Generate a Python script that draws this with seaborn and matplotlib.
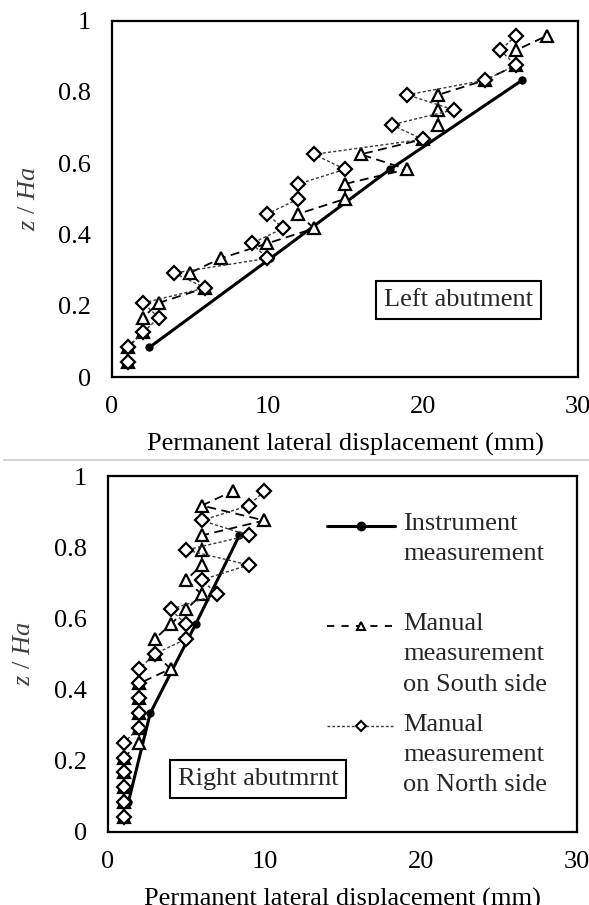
import matplotlib
matplotlib.use("Agg")
import matplotlib.pyplot as plt
import seaborn as sns
import pandas as pd
from matplotlib.lines import Line2D
from matplotlib.ticker import MultipleLocator, FuncFormatter
from matplotlib.legend_handler import HandlerLine2D

# ---------------- data ----------------
LEVELS = [0.042, 0.083, 0.125, 0.167, 0.208, 0.250, 0.292, 0.333, 0.375,
          0.417, 0.458, 0.500, 0.542, 0.583, 0.625, 0.667, 0.708, 0.750,
          0.792, 0.833, 0.875, 0.917, 0.958]
INST_LEVELS = [0.083, 0.333, 0.583, 0.833]

# Left abutment
left_instrument = [2.4, 10.2, 17.9, 26.4]
left_south = [1, 1, 2, 2, 3, 6, 5, 7, 10, 13, 12, 15, 15, 19, 16, 20, 21, 21,
              21, 24, 26, 26, 28]
left_north = [1, 1, 2, 3, 2, 6, 4, 10, 9, 11, 10, 12, 12, 15, 13, 20, 18, 22,
              19, 24, 26, 25, 26]

# Right abutment
right_instrument = [1.3, 2.7, 5.6, 8.4]
right_south = [1, 1, 1, 1, 1, 2, 2, 2, 2, 2, 4, 3, 3, 4, 5, 6, 5, 6, 6, 6,
               10, 6, 8]
right_north = [1, 1, 1, 1, 1, 1, 2, 2, 2, 2, 2, 3, 5, 5, 4, 7, 6, 9, 5, 9,
               6, 9, 10]

X_LABEL = "Permanent lateral displacement (mm)"
Y_LABEL = r"$z$ / $Ha$"
LEGEND_LABELS = ["Instrument\nmeasurement\n",
                 "Manual\nmeasurement\non South side",
                 "Manual\nmeasurement\non North side"]
PANEL_TITLES = ["Left abutment", "Right abutmrnt"]

# ---------------- style ----------------
sns.set_theme(style="white")
plt.rcParams['font.family'] = ['Liberation Serif', 'DejaVu Serif']
plt.rcParams['mathtext.fontset'] = 'custom'
plt.rcParams['mathtext.it'] = 'Liberation Serif:italic'
plt.rcParams['mathtext.rm'] = 'Liberation Serif'
FS = 19

INST_KW = dict(color='black', lw=2.2, marker='o', markersize=6,
               markerfacecolor='black', markeredgecolor='black',
               markeredgewidth=0)
SOUTH_KW = dict(color='black', lw=1.3, linestyle=(0, (5, 3)), marker='^',
                markersize=8.5, markerfacecolor='white',
                markeredgecolor='black', markeredgewidth=1.6)
NORTH_KW = dict(color='#3a3a3a', lw=1.0, linestyle=(0, (2.2, 1.6)),
                marker='D', markersize=7, markerfacecolor='white',
                markeredgecolor='black', markeredgewidth=1.6)

fig = plt.figure(figsize=(5.89, 9.05), dpi=100)
ax1 = fig.add_axes([0.1902, 0.5834, 0.7912, 0.3937])
ax2 = fig.add_axes([0.1834, 0.0810, 0.7963, 0.3930])


def draw_panel(ax, inst, south, north, title, title_xy):
    d_inst = pd.DataFrame({"x": inst, "z": INST_LEVELS})
    d_s = pd.DataFrame({"x": south, "z": LEVELS})
    d_n = pd.DataFrame({"x": north, "z": LEVELS})
    sns.lineplot(data=d_inst, x="x", y="z", ax=ax, sort=False,
                 estimator=None, zorder=2, **INST_KW)
    sns.lineplot(data=d_s, x="x", y="z", ax=ax, sort=False,
                 estimator=None, zorder=3, **SOUTH_KW)
    sns.lineplot(data=d_n, x="x", y="z", ax=ax, sort=False,
                 estimator=None, zorder=4, **NORTH_KW)
    ax.set_xlim(0, 30)
    ax.set_ylim(0, 1)
    ax.xaxis.set_major_locator(MultipleLocator(10))
    ax.xaxis.set_minor_locator(MultipleLocator(2))
    ax.yaxis.set_major_locator(MultipleLocator(0.2))
    ax.yaxis.set_minor_locator(MultipleLocator(0.05))
    ax.yaxis.set_major_formatter(FuncFormatter(lambda v, p: f"{v:g}"))
    ax.xaxis.set_major_formatter(FuncFormatter(lambda v, p: f"{v:g}"))
    ax.tick_params(which='both', direction='in', color='black', width=1.5,
                   labelsize=FS, labelcolor='black')
    ax.tick_params(axis='x', which='both', length=5.5, pad=14)
    ax.tick_params(axis='y', which='major', length=7.5, pad=15)
    ax.tick_params(axis='y', which='minor', length=5)
    for s in ax.spines.values():
        s.set_color('black')
        s.set_linewidth(1.6)
        s.set_visible(True)
    ax.set_xlabel(X_LABEL, fontsize=FS, color='black')
    ax.set_ylabel(Y_LABEL, fontsize=FS, color='#404040')
    ax.xaxis.set_label_coords(0.5, -0.158)
    ax.yaxis.set_label_coords(-0.155, 0.5)
    ax.text(title_xy[0], title_xy[1], title, fontsize=FS, ha='center',
            va='center', zorder=6,
            bbox=dict(boxstyle='square,pad=0.3', fc='white', ec='black',
                      lw=1.5))
    ax.grid(False)


draw_panel(ax1, left_instrument, left_south, left_north, PANEL_TITLES[0],
           (22.3, 0.216))
draw_panel(ax2, right_instrument, right_south, right_north, PANEL_TITLES[1],
           (9.6, 0.147))


class FirstLineHandler(HandlerLine2D):
    """Place the legend handle level with the first line of its label."""

    def __init__(self, shift, **kw):
        super().__init__(**kw)
        self.shift = shift

    def create_artists(self, legend, orig_handle, xdescent, ydescent, width,
                       height, fontsize, trans):
        return super().create_artists(legend, orig_handle, xdescent,
                                      ydescent - 2 * self.shift * fontsize,
                                      width, height, fontsize, trans)


h_inst = Line2D([], [], color='black', lw=2.2, marker='o', markersize=6,
                markerfacecolor='black', markeredgecolor='black')
h_south = Line2D([], [], color='black', lw=1.3, linestyle=(0, (4, 4)),
                 marker='^', markersize=6, markerfacecolor='white',
                 markeredgecolor='black', markeredgewidth=1.5)
h_north = Line2D([], [], color='#3a3a3a', lw=1.0, linestyle=(0, (2, 1.5)),
                 marker='D', markersize=5, markerfacecolor='white',
                 markeredgecolor='black', markeredgewidth=1.5)
SHIFT = 1.05
hm = {h: FirstLineHandler(SHIFT) for h in (h_inst, h_south, h_north)}
leg = ax2.legend([h_inst, h_south, h_north], LEGEND_LABELS, loc='upper left',
                 bbox_to_anchor=(0.466, 0.896), frameon=False, fontsize=FS,
                 handlelength=2.6, handletextpad=0.3, labelspacing=0.68,
                 borderpad=0, borderaxespad=0, handler_map=hm)
for t in leg.get_texts():
    t.set_linespacing(1.48)

fig.add_artist(Line2D([0.007, 1.0], [1 - 460 / 905] * 2,
                      transform=fig.transFigure, color='#d4d4d4', lw=1.5))

fig.savefig("out.png", dpi=100, facecolor='white')
